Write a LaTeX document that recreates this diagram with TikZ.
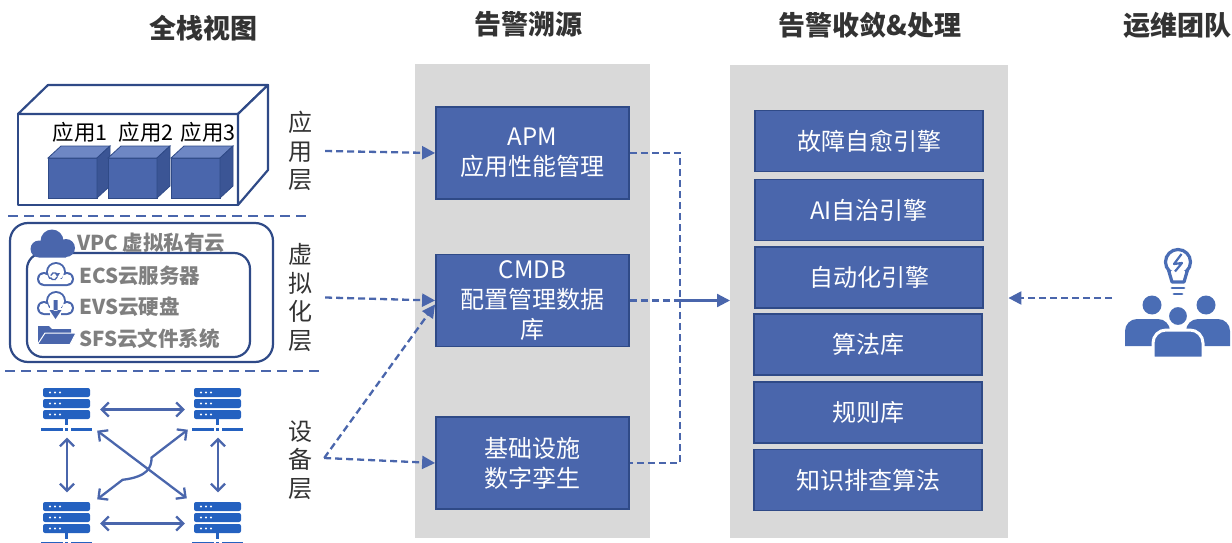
\documentclass[tikz,border=0pt]{standalone}
\usepackage{fontspec}
\setmainfont{Noto Sans CJK SC}
\usetikzlibrary{arrows.meta,calc}

\definecolor{boxblue}{HTML}{4A66AC}
\definecolor{boxedge}{HTML}{2F4A87}
\definecolor{panelgray}{HTML}{D9D9D9}
\definecolor{linkblue}{HTML}{4A66AC}
\definecolor{srvblue}{HTML}{2461C0}
\definecolor{titlegray}{HTML}{333333}
\definecolor{labelgray}{HTML}{7F7F7F}
\definecolor{teamblue}{HTML}{4A6DB5}
\definecolor{cubetop}{HTML}{6E87C4}
\definecolor{cubeside}{HTML}{3B5595}

\tikzset{
  panel/.style={fill=panelgray, draw=none, inner sep=0pt, anchor=north west},
  srcbox/.style={fill=boxblue, draw=boxedge, line width=1.8pt, minimum width=193pt,
    minimum height=92pt, text=white, font=\fontsize{24}{30}\selectfont, align=center, inner sep=0pt},
  engbox/.style={fill=boxblue, draw=boxedge, line width=1.8pt, minimum width=228pt,
    minimum height=61pt, text=white, font=\fontsize{24}{30}\selectfont, align=center, inner sep=0pt},
  title/.style={font=\fontsize{27}{30}\selectfont\bfseries, text=titlegray},
  layer/.style={font=\fontsize{24}{28.5}\selectfont, text=titlegray, align=center, inner sep=0pt},
  applabel/.style={font=\fontsize{21.5}{24}\selectfont, text=black, inner sep=0pt},
  virtlabel/.style={font=\fontsize{20.5}{24}\selectfont\bfseries, text=labelgray, inner sep=0pt, anchor=west},
  link/.style={linkblue, line width=2.3pt, dash pattern=on 7pt off 4pt},
  tip/.style={-{Triangle[length=13pt,width=13pt]}},
  dbl/.style={linkblue, line width=2.3pt, {Straight Barb[length=7pt,width=14pt]}-{Straight Barb[length=7pt,width=14pt]}},
  frame3d/.style={draw=boxedge, line width=2.2pt, line join=round},
  srvarea/.style={inner sep=0pt, minimum width=52pt, minimum height=44pt},
  server/.pic={
    \fill[srvblue, rounded corners=2pt] (0,0) rectangle (47,9);
    \fill[srvblue, rounded corners=2pt] (0,11) rectangle (47,20);
    \fill[srvblue, rounded corners=2pt] (0,22) rectangle (47,31);
    \foreach \r in {4.5,15.5,26.5}
      \foreach \c in {7,12,17}
        \fill[white] (\c,\r) circle (1.1pt);
    \fill[srvblue] (22,31) rectangle (25,37);
    \fill[srvblue] (-2,39.5) rectangle (19.5,42.5);
    \fill[srvblue] (22,39.5) rectangle (25,42.5);
    \fill[srvblue] (27.5,39.5) rectangle (49,42.5);
  },
  cloudring/.pic={
    \fill[linkblue] (-11,3) circle (7pt) (1,-4) circle (10pt) (12,3) circle (7pt) (-11,3) rectangle (12,10);
    \fill[white] (-11,3) circle (5pt) (1,-4) circle (8pt) (12,3) circle (5pt) (-11,3) rectangle (12,8);
  },
  cube/.pic={
    \fill[boxblue, draw=boxedge, line width=0.8pt] (0,0) rectangle (49,40);
    \fill[cubetop, draw=boxedge, line width=0.8pt] (0,0) -- (13,-12) -- (62,-12) -- (49,0) -- cycle;
    \fill[cubeside, draw=boxedge, line width=0.8pt] (49,0) -- (62,-12) -- (62,28) -- (49,40) -- cycle;
  }
}

\begin{document}
\begin{tikzpicture}[x=1pt,y=-1pt]
\useasboundingbox (0,0) rectangle (1232,543);

% column titles
\node[title] (tStack) at (203,28) {全栈视图};
\node[title] (tTrace) at (528,24) {告警溯源};
\node[title] (tAlarm) at (870,25) {告警收敛\&处理};
\node[title] (tTeam) at (1177,25) {运维团队};

% background panels
\node[panel, minimum width=235pt, minimum height=474pt] (tracePanel) at (415,64) {};
\node[panel, minimum width=278pt, minimum height=473pt] (alarmPanel) at (730,65) {};

% ---------------- application layer: 3D box with three cubes
\draw[frame3d, fill=white] (18,114) rectangle (238,205);
\draw[frame3d, fill=white] (18,114) -- (48,85) -- (268,85) -- (238,114) -- cycle;
\draw[frame3d, fill=white] (238,114) -- (268,85) -- (268,170) -- (238,205) -- cycle;
\pic at (48,158) {cube};
\pic at (108,158) {cube};
\pic at (171,158) {cube};
\node[applabel] (app1) at (80,132) {应用1};
\node[applabel] (app2) at (146,132) {应用2};
\node[applabel] (app3) at (208,132) {应用3};

% layer separators
\draw[linkblue, line width=2.3pt, dash pattern=on 10pt off 6pt] (8,216) -- (310,216);
\draw[linkblue, line width=2.3pt, dash pattern=on 10pt off 6pt] (5,371) -- (322,371);

% ---------------- virtualization layer
\draw[boxedge, line width=2.2pt, rounded corners=18pt] (10,223) rectangle (273,362);
\draw[boxedge, line width=2.2pt, rounded corners=16pt] (27,253) rectangle (250,357);
% VPC cloud (filled)
\fill[linkblue] (39,249) circle (8.5pt) (52,241) circle (11.5pt) (66,248) circle (9pt) (39,248) rectangle (66,257.5);
% ECS cloud with refresh mark
\pic at (55,276) {cloudring};
\draw[linkblue, line width=1.3pt] (57.5,275) arc[start angle=20, end angle=170, radius=3.5pt];
\draw[linkblue, line width=1.3pt] (50.5,277.5) arc[start angle=200, end angle=350, radius=3.5pt];
\fill[linkblue] (57.5,277) -- (60,273) -- (55,273.5) -- cycle;
% EVS cloud with download arrow
\pic at (55,305) {cloudring};
\fill[white] (50,303) rectangle (61,322);
\fill[linkblue] (53.5,300) rectangle (57.5,311) (49.5,310) -- (61.5,310) -- (55.5,319) -- cycle;
% SFS folder
\fill[linkblue] (38,344) -- (38,326) -- (49,326) -- (52,329) -- (71,329) -- (71,333) -- (45,333) -- cycle;
\fill[linkblue, draw=white, line width=1pt] (37.5,344.5) -- (45,333) -- (76,333) -- (70,344.5) -- cycle;
\node[virtlabel] (vpcText) at (77,243) {VPC 虚拟私有云};
\node[virtlabel] (ecsText) at (79,276) {ECS云服务器};
\node[virtlabel] (evsText) at (79,307) {EVS云硬盘};
\node[virtlabel] (sfsText) at (79,339) {SFS云文件系统};

% ---------------- device layer: four servers
\node[srvarea] (srvTL) at (67,409.5) {};
\node[srvarea] (srvTR) at (218,409.5) {};
\node[srvarea] (srvBL) at (67,523.5) {};
\node[srvarea] (srvBR) at (218,523.5) {};
\pic at (43,388) {server};
\pic at (194,388) {server};
\pic at (43,502) {server};
\pic at (194,502) {server};
\draw[dbl] ([xshift=7pt]srvTL.east) -- ([xshift=-7pt]srvTR.west);
\draw[dbl] ([xshift=7pt]srvBL.east) -- ([xshift=-7pt]srvBR.west);
\draw[dbl] ([yshift=-6pt]srvTL.south) -- ([yshift=9pt]srvBL.north);
\draw[dbl] ([yshift=-6pt]srvTR.south) -- ([yshift=9pt]srvBR.north);
\draw[dbl] ([shift={(4,-1)}]srvTL.south east) -- ([shift={(-5,-3)}]srvBR.north west);
\coordinate (hopA) at ([shift={(4,-2)}]srvBL.north east);
\coordinate (hopB) at ([shift={(-4,-2)}]srvTR.south west);
\draw[dbl] (hopA) -- ($(hopA)!0.28!(hopB)$)
  .. controls +(25,-3) and +(0,10) .. ($(hopA)!0.6!(hopB)$) -- (hopB);

% layer captions
\node[layer] (lApp) at (300,151) {应\\用\\层};
\node[layer] (lVirt) at (300,297.5) {虚\\拟\\化\\层};
\node[layer] (lDev) at (300,460) {设\\备\\层};

% ---------------- tracing sources
\node[srcbox] (apm) at (532.5,153) {APM\\应用性能管理};
\node[srcbox] (cmdb) at (532.5,300.5) {CMDB\\配置管理数据\\库};
\node[srcbox] (infra) at (532.5,463) {基础设施\\数字孪生};

% ---------------- convergence engines
\node[engbox] (eHeal) at (869,141) {故障自愈引擎};
\node[engbox] (eAI) at (869,210) {AI自治引擎};
\node[engbox] (eAuto) at (869,277.5) {自动化引擎};
\node[engbox] (eAlgo) at (868,344.5) {算法库};
\node[engbox] (eRule) at (868,412.5) {规则库};
\node[engbox] (eKnow) at (868,480) {知识排查算法};

% ---------------- connectors
\draw[link, tip] ([xshift=13pt]lApp.east) -- (apm.west);
\draw[link, tip] ([xshift=13pt]lVirt.east) -- (cmdb.west);
\coordinate (devOut) at ([shift={(12,-2)}]lDev.east);
\draw[link, tip] (devOut) -- (infra.west);
\draw[link, tip] (devOut) -- ([yshift=-4pt]cmdb.west);
\draw[link] (apm.east) -- ++(50,0) |- (infra.east);
\draw[link] (cmdb.east) -- ++(50,0) coordinate (merge);
\draw[linkblue, line width=2.3pt, tip] (merge) -- (merge -| alarmPanel.west);
\coordinate (teamOut) at (1112,298);
\draw[link, tip] (teamOut) -- (teamOut -| alarmPanel.east);

% ---------------- operations team icon
% light bulb
\draw[teamblue, line width=3.2pt] (1178,262) circle (12.5pt);
\fill[white] (1171,271) rectangle (1185,280);
\draw[teamblue, line width=3.2pt, line join=round] (1168.5,270) -- (1172,282) -- (1184,282) -- (1187.5,270);
\draw[teamblue, line width=2.8pt, line cap=round] (1172,288) -- (1184,288);
\draw[teamblue, line width=2.8pt, line cap=round] (1174,294) -- (1182,294);
\draw[teamblue, line width=2.2pt, line join=round] (1181.5,254) -- (1174,264) -- (1182,263) -- (1175,271.5);
% people
\fill[teamblue] (1152,305) circle (9.5pt);
\fill[teamblue] (1206,305) circle (9.5pt);
\fill[teamblue] (1125,346) [rounded corners=12pt] -- (1125,319) -- (1170,319) [sharp corners] -- (1170,346) -- cycle;
\fill[teamblue] (1186,346) [rounded corners=12pt] -- (1186,319) -- (1230,319) [sharp corners] -- (1230,346) -- cycle;
\filldraw[teamblue, draw=white, line width=3pt] (1178,316) circle (10.5pt);
\filldraw[teamblue, draw=white, line width=3pt] (1153,358) [rounded corners=13pt] -- (1153,330) -- (1203,330) [sharp corners] -- (1203,358) -- cycle;
\end{tikzpicture}
\end{document}
